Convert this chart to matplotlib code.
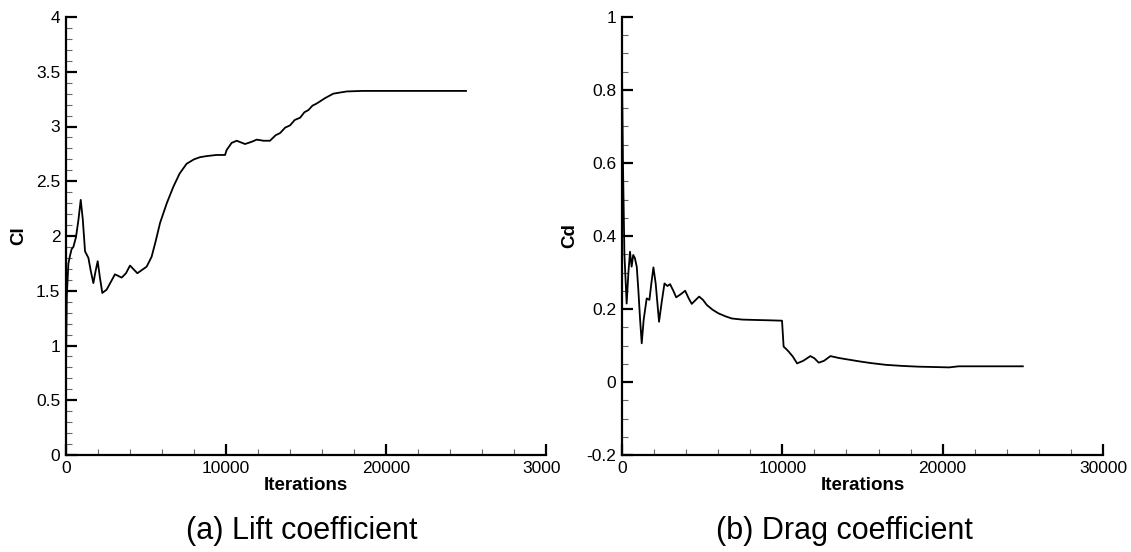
import matplotlib
matplotlib.use('Agg')
import matplotlib.pyplot as plt
from matplotlib.ticker import MultipleLocator, FormatStrFormatter
from matplotlib.transforms import Bbox, TransformedBbox

plt.rcParams['font.family'] = ['Liberation Sans', 'DejaVu Sans']

# 升力系数 Cl
cl_iter = [0, 50, 150, 250, 350, 460, 625, 780, 920, 1050,
           1190, 1400, 1550, 1710, 1850, 1980, 2120, 2270, 2540, 2800,
           3060, 3480, 3750, 4000, 4460, 5040, 5350, 5600, 5880, 6300,
           6710, 7100, 7540, 8000, 8380, 8800, 9400, 9940, 10040, 10350,
           10670, 11190, 11600, 11920, 12350, 12750, 13100, 13380, 13700, 14000,
           14300, 14630, 14900, 15150, 15400, 15670, 16200, 16710, 17540, 18500,
           20000, 22500, 25000]
cl_val = [0.80, 1.45, 1.75, 1.82, 1.88, 1.90, 1.99, 2.15, 2.33, 2.15,
          1.86, 1.80, 1.68, 1.57, 1.68, 1.77, 1.62, 1.48, 1.51, 1.58,
          1.65, 1.62, 1.66, 1.73, 1.66, 1.72, 1.81, 1.95, 2.12, 2.30,
          2.45, 2.57, 2.66, 2.70, 2.72, 2.73, 2.74, 2.74, 2.785, 2.85,
          2.87, 2.84, 2.86, 2.88, 2.87, 2.87, 2.92, 2.94, 2.99, 3.01,
          3.06, 3.08, 3.13, 3.15, 3.19, 3.21, 3.26, 3.30, 3.32, 3.325,
          3.325, 3.325, 3.325]

# 阻力系数 Cd
cd_iter = [0, 60, 150, 290, 400, 500, 600, 700, 800, 920,
           1020, 1130, 1230, 1350, 1540, 1710, 1830, 1960, 2100, 2310,
           2480, 2650, 2830, 3000, 3200, 3380, 3650, 3940, 4150, 4350,
           4600, 4810, 5050, 5290, 5650, 6020, 6450, 6850, 7500, 8300,
           9200, 9980, 10080, 10250, 10400, 10650, 10920, 11300, 11750, 12000,
           12270, 12600, 13000, 13500, 14040, 14880, 15500, 16460, 17500, 18500,
           19500, 20400, 21000, 23000, 25000]
cd_val = [0.85, 0.60, 0.35, 0.215, 0.30, 0.357, 0.316, 0.348, 0.34, 0.316,
          0.252, 0.17, 0.106, 0.17, 0.229, 0.225, 0.27, 0.314, 0.27, 0.165,
          0.22, 0.270, 0.263, 0.268, 0.25, 0.232, 0.24, 0.250, 0.23, 0.214,
          0.225, 0.234, 0.225, 0.211, 0.198, 0.188, 0.180, 0.174, 0.171, 0.170,
          0.169, 0.168, 0.097, 0.09, 0.083, 0.07, 0.051, 0.058, 0.071, 0.065,
          0.053, 0.058, 0.071, 0.066, 0.062, 0.056, 0.052, 0.047, 0.044, 0.042,
          0.041, 0.040, 0.043, 0.043, 0.043]

W, H = 1131, 552


def style_axis(ax, ymin, ymax, ymaj, ymin_step, ylabel):
    ax.set_xlim(0, 30000)
    ax.set_ylim(ymin, ymax)
    ax.xaxis.set_major_locator(MultipleLocator(10000))
    ax.xaxis.set_minor_locator(MultipleLocator(2000))
    ax.yaxis.set_major_locator(MultipleLocator(ymaj))
    ax.yaxis.set_minor_locator(MultipleLocator(ymin_step))
    ax.xaxis.set_major_formatter(FormatStrFormatter('%g'))
    ax.yaxis.set_major_formatter(FormatStrFormatter('%g'))
    for s in ['top', 'right']:
        ax.spines[s].set_visible(False)
    for s in ['left', 'bottom']:
        ax.spines[s].set_linewidth(1.6)
    ax.tick_params(which='major', direction='in', length=8, width=1.6,
                   labelsize=12.5, pad=4)
    ax.tick_params(which='minor', direction='in', length=4.5, width=0.8,
                   color='#666666')
    ax.set_xlabel('Iterations', fontsize=13.5, fontweight='bold', labelpad=1)
    ax.set_ylabel(ylabel, fontsize=13.5, fontweight='bold', labelpad=6)


fig = plt.figure(figsize=(W / 100, H / 100), dpi=100)
ax1 = fig.add_axes([66 / W, (H - 455) / H, 480 / W, 438 / H])
ax2 = fig.add_axes([622 / W, (H - 455) / H, 481 / W, 438 / H])

ax1.plot(cl_iter, cl_val, color='black', lw=1.3)
style_axis(ax1, 0, 4, 0.5, 0.1, 'Cl')

ax2.plot(cd_iter, cd_val, color='black', lw=1.3)
style_axis(ax2, -0.2, 1, 0.2, 0.05, 'Cd')

# 右端刻度标签被裁剪
clip1 = TransformedBbox(Bbox([[0, 0], [560 / W, 1]]), fig.transFigure)
clip2 = TransformedBbox(Bbox([[0, 0], [1127 / W, 1]]), fig.transFigure)
for lab in ax1.get_xticklabels():
    lab.set_clip_on(True)
    lab.set_clip_box(clip1)
for lab in ax2.get_xticklabels():
    lab.set_clip_on(True)
    lab.set_clip_box(clip2)

fig.text(302 / W, 1 - 531 / H, '(a) Lift coefficient', fontsize=22,
         ha='center', va='center')
fig.text(844 / W, 1 - 531 / H, '(b) Drag coefficient', fontsize=22,
         ha='center', va='center')

fig.savefig('out.png', dpi=100)
